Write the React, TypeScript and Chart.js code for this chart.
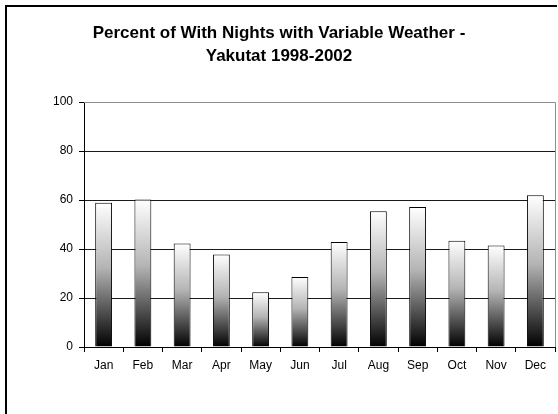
import React, { useEffect, useRef } from "react";
import { Chart, registerables } from "chart.js";

Chart.register(...registerables);

const titleLines = ["Percent of With Nights with Variable Weather -", "Yakutat 1998-2002"];
const months = ["Jan", "Feb", "Mar", "Apr", "May", "Jun", "Jul", "Aug", "Sep", "Oct", "Nov", "Dec"];
const percentValues = [58.9, 60.2, 42.2, 37.8, 22.3, 28.6, 42.9, 55.4, 57.1, 43.4, 41.4, 61.9];
const yMin = 0;
const yMax = 100;
const yStep = 20;

const FONT = "'Liberation Sans', Arial, sans-serif";

const framePlugin = {
  id: "frame",
  beforeDraw(chart: any) {
    const { ctx, width, height } = chart;
    ctx.save();
    ctx.fillStyle = "#ffffff";
    ctx.fillRect(0, 0, width, height);
    ctx.strokeStyle = "#000000";
    ctx.lineWidth = 2;
    ctx.beginPath();
    ctx.moveTo(6, height + 2);
    ctx.lineTo(6, 6);
    ctx.lineTo(557, 6);
    ctx.stroke();
    ctx.restore();
  },
  afterDraw(chart: any) {
    const { ctx, chartArea } = chart;
    ctx.save();
    // plot area border (grey) top and right
    ctx.strokeStyle = "#8c8c8c";
    ctx.lineWidth = 1;
    ctx.beginPath();
    ctx.moveTo(chartArea.left, Math.round(chartArea.top) + 0.5);
    ctx.lineTo(Math.round(chartArea.right) + 0.5, Math.round(chartArea.top) + 0.5);
    ctx.lineTo(Math.round(chartArea.right) + 0.5, chartArea.bottom);
    ctx.stroke();
    // title
    ctx.fillStyle = "#000000";
    ctx.font = `bold 17px ${FONT}`;
    ctx.textAlign = "center";
    ctx.textBaseline = "alphabetic";
    const cx = 279;
    ctx.fillText(titleLines[0], cx, 38);
    ctx.fillText(titleLines[1], cx, 61);
    ctx.restore();
  },
};

export default function App() {
  const canvasRef = useRef<HTMLCanvasElement | null>(null);

  useEffect(() => {
    const canvas = canvasRef.current;
    if (!canvas) return;
    const chart = new Chart(canvas, {
      type: "bar",
      data: {
        labels: months,
        datasets: [
          {
            data: percentValues,
            backgroundColor: (c: any) => {
              const ch = c.chart;
              const y = ch.scales && ch.scales.y;
              if (!y || c.raw == null) return "#888888";
              const top = y.getPixelForValue(c.raw as number);
              const bottom = y.getPixelForValue(0);
              if (!isFinite(top) || !isFinite(bottom) || top === bottom) return "#888888";
              const g = ch.ctx.createLinearGradient(0, top, 0, bottom);
              g.addColorStop(0, "#ffffff");
              g.addColorStop(0.45, "#b4b4b4");
              g.addColorStop(1, "#000000");
              return g;
            },
            borderColor: "#000000",
            borderWidth: 1,
            barPercentage: 0.43,
            categoryPercentage: 1,
          },
        ],
      },
      plugins: [framePlugin],
      options: {
        responsive: false,
        animation: false,
        events: [],
        layout: { padding: { top: 102, left: 0, right: 3, bottom: 0 } },
        plugins: {
          legend: { display: false },
          title: { display: false },
          tooltip: { enabled: false },
        },
        scales: {
          x: {
            grid: {
              offset: true,
              drawOnChartArea: false,
              drawTicks: true,
              tickLength: 5,
              color: "#000000",
            },
            border: { display: true, color: "#000000", width: 1 },
            ticks: {
              color: "#000000",
              font: { family: FONT, size: 12 },
              padding: 6,
              maxRotation: 0,
              autoSkip: false,
            },
            afterFit: (scale: any) => {
              scale.height = 67;
            },
          },
          y: {
            min: yMin,
            max: yMax,
            grid: {
              color: (c: any) => (c.tick && c.tick.value === yMax ? "#8c8c8c" : "#1a1a1a"),
              tickColor: "#000000",
              drawTicks: true,
              tickLength: 5,
            },
            border: { display: true, color: "#000000", width: 1 },
            ticks: {
              stepSize: yStep,
              color: "#000000",
              font: { family: FONT, size: 12 },
              padding: 6,
            },
            afterFit: (scale: any) => {
              scale.width = 84;
            },
          },
        },
      },
    });
    return () => chart.destroy();
  }, []);

  return (
    <div style={{ position: "fixed", left: 0, top: 0, width: 558, height: 414, background: "#fff" }}>
      <canvas ref={canvasRef} width={558} height={414} style={{ display: "block" }} />
    </div>
  );
}
